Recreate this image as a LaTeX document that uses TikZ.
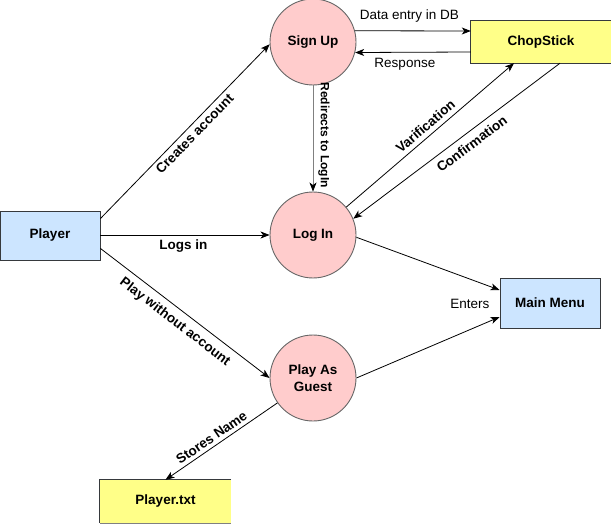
\documentclass[tikz,border=0pt]{standalone}
\usepackage{fontspec}
\setmainfont{Liberation Sans}
\usetikzlibrary{arrows.meta,calc}
\definecolor{cfill}{HTML}{FFCCCC}
\definecolor{cline}{HTML}{666666}
\definecolor{bfill}{HTML}{CCE5FF}
\definecolor{yfill}{HTML}{FFFF88}
\definecolor{rline}{HTML}{36393D}
\tikzset{
  proc/.style={circle,fill=cfill,draw=cline,line width=0.9pt,minimum size=86pt,inner sep=0pt,font=\fontsize{13.5}{17}\selectfont\bfseries,align=center},
  ent/.style={rectangle,fill=bfill,draw=rline,line width=0.9pt,inner sep=0pt,font=\fontsize{13.5}{17}\selectfont\bfseries},
  store/.style={rectangle,fill=yfill,inner sep=0pt,font=\fontsize{13.5}{17}\selectfont\bfseries},
  conn/.style={draw=black,line width=0.8pt,-{Stealth[length=9pt,width=7pt,inset=2.5pt,color=black]}},
  lbl/.style={font=\fontsize{13.5}{17}\selectfont\bfseries,inner sep=2pt},
  lblr/.style={font=\fontsize{13.5}{17}\selectfont,inner sep=2pt},
}
\begin{document}
\begin{tikzpicture}[x=1pt,y=-1pt]
\useasboundingbox (0,0) rectangle (611,524);
% nodes
\node[ent,minimum width=100pt,minimum height=49pt] (pl) at (50,235.5) {Player};
\node[proc] (su) at (313,42) {Sign Up};
\node[proc] (li) at (313,235) {Log In};
\node[proc] (pg) at (313,378) {Play As\\Guest};
\node[ent,minimum width=100pt,minimum height=50pt] (mm) at (550,303) {Main Menu};
\node[store,minimum width=140pt,minimum height=42pt] (cs) at (541,42) {ChopStick};
\node[store,minimum width=131pt,minimum height=43pt] (pt) at (165.5,501.5) {Player.txt};
% data store borders (open on the right)
\draw[rline,line width=0.9pt] (cs.north east) -- (cs.north west) -- (cs.south west) -- (cs.south east);
\draw[rline,line width=0.9pt] (pt.north east) -- (pt.north west) -- (pt.south west);
\draw[gray,line width=1.4pt] (pt.south west) -- (pt.south east);
% connector endpoints
\coordinate (plA) at ($(pl.north east)+(0,8)$);
\coordinate (plB) at ($(pl.south east)+(0,-12)$);
\coordinate (csIn) at ($(cs.west)+(0,-11)$);
\coordinate (csOut) at ($(cs.west)+(0,10)$);
\coordinate (csV) at ($(cs.south)+(-27,0)$);
\coordinate (csC) at ($(cs.south)+(19,0)$);
\coordinate (mmA) at ($(mm.west)+(0,-13)$);
\coordinate (mmB) at ($(mm.west)+(0,14)$);
% connectors
\draw[conn] (plA) -- node[lbl,pos=0.52,sloped,below=1.5pt] {Creates account} (su.183);
\draw[conn] (pl.east |- li.west) -- node[lbl,pos=0.49,below=2pt] {Logs in} (li.west);
\draw[conn] (plB) -- node[lbl,pos=0.487,sloped,below=4.5pt] {Play without account} (pg.west);
\draw[conn] (su.15) -- node[lblr,pos=0.47,above=6pt] {Data entry in DB} (csIn);
\draw[conn] (csOut) -- node[lblr,pos=0.57,below=4pt] {Response} (su.-14);
\draw[conn,draw=gray] (su.south) -- node[lbl,font=\fontsize{12}{14}\selectfont\bfseries,pos=0.47,rotate=-90,above=3pt,text=black] {Redirects to LogIn} (li.north);
\draw[conn] (li.40) -- node[lbl,pos=0.51,sloped,above=2.5pt] {Varification} (csV);
\draw[conn] (csC) -- node[lbl,pos=0.46,sloped,below=4pt] {Confirmation} (li.22);
\draw[conn] (li.-3) -- (mmA);
\draw[conn] (pg.east) -- (mmB);
\draw[conn] (pg.215) -- node[lbl,pos=0.545,sloped,above=1.5pt] {Stores Name} (pt.north);
\node[lblr,anchor=east] (en) at ($(mm.west)+(-8,1)$) {Enters};
\end{tikzpicture}
\end{document}
